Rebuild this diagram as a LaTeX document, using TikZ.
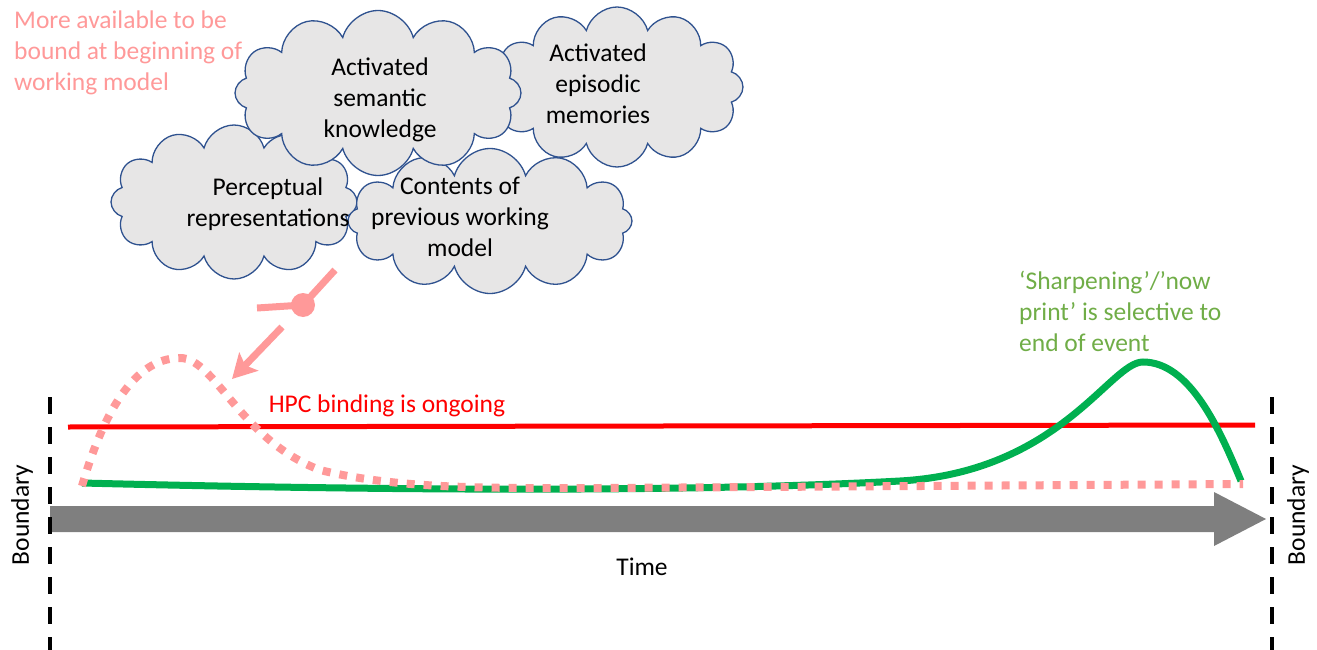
\documentclass[tikz,border=0pt]{standalone}
\usepackage{fontspec}
\setmainfont{Carlito}
\usetikzlibrary{shapes.symbols,arrows.meta}
\definecolor{salmon}{RGB}{255,153,153}
\definecolor{cloudgray}{RGB}{231,230,230}
\definecolor{cloudblue}{RGB}{47,82,143}
\definecolor{curvegreen}{RGB}{0,176,80}
\definecolor{textgreen}{RGB}{112,173,71}
\definecolor{arrowgray}{RGB}{127,127,127}
\begin{document}
\begin{tikzpicture}[x=1pt,y=-1pt,
  every node/.style={font=\fontsize{25.5}{31}\selectfont,align=center,inner sep=0pt},
  puff/.style={cloud,cloud puffs=12,cloud ignores aspect,draw=cloudblue,line width=1.3pt,fill=cloudgray},
  boundary/.style={line width=4pt,dash pattern=on 17pt off 13pt}]
\useasboundingbox (0,0) rectangle (1317,650);
\node[salmon,align=left,anchor=north west] (more) at (14,11) {More available to be\\bound at beginning of\\working model};
\node[puff,minimum width=252,minimum height=160] (episodic) at (617,87) {};
\node[puff,minimum width=246,minimum height=154] (perceptual) at (234,202) {};
\node[puff,minimum width=284,minimum height=145] (contents) at (490,221) {};
\node[puff,minimum width=286,minimum height=165] (semantic) at (378,93) {};
\node (semantictext) at (380,100) {Activated\\semantic\\knowledge};
\node (episodictext) at (598,84) {Activated\\episodic\\memories};
\node (perceptualtext) at (268,204) {Perceptual\\representations};
\node (contentstext) at (460,217) {Contents of\\previous working\\model};
\coordinate (S1) at (335,270);
\coordinate (S2) at (303,305);
\coordinate (S3) at (257,308);
\coordinate (S4) at (282,327);
\coordinate (S5) at (232,379);
\draw [salmon,line width=7pt] (S1) -- (S2);
\draw [salmon,line width=7pt] (S3) -- (S2);
\fill [salmon] (S2) circle (12);
\draw [salmon,line width=7pt,-{Stealth[length=24pt,width=26pt,inset=5pt]}] (S4) -- (S5);
\coordinate (R1) at (68,427);
\coordinate (R2) at (1255,425);
\draw [red,line width=5pt] (R1) -- (R2);
\node[red] (hpc) at (387,406) {HPC binding is ongoing};
\draw [curvegreen,line width=7pt] (82,483) .. controls (400,491) and (700,492) .. (900,481)
  .. controls (1060,472) and (1110,362) .. (1143,362)
  .. controls (1190,362) and (1220,430) .. (1241,481);
\draw [salmon,line width=8pt,dash pattern=on 8pt off 9pt] (82,486) .. controls (110,390) and (145,358) .. (180,358)
  .. controls (215,358) and (240,440) .. (320,470)
  .. controls (400,490) and (500,488) .. (600,488) -- (1243,484);
\node[textgreen,align=left,anchor=north west] (sharp) at (1019,271) {‘Sharpening’/’now\\print’ is selective to\\end of event};
\fill [arrowgray] (50,506) -- (1214,506) -- (1214,492) -- (1266,519) -- (1214,546) -- (1214,532) -- (50,532) -- cycle;
\draw [boundary] (50,397) -- (50,650);
\draw [boundary] (1272,397) -- (1272,650);
\node[rotate=90] (leftb) at (22,515) {Boundary};
\node[rotate=90] (rightb) at (1298,515) {Boundary};
\node (time) at (642,567) {Time};
\end{tikzpicture}
\end{document}
